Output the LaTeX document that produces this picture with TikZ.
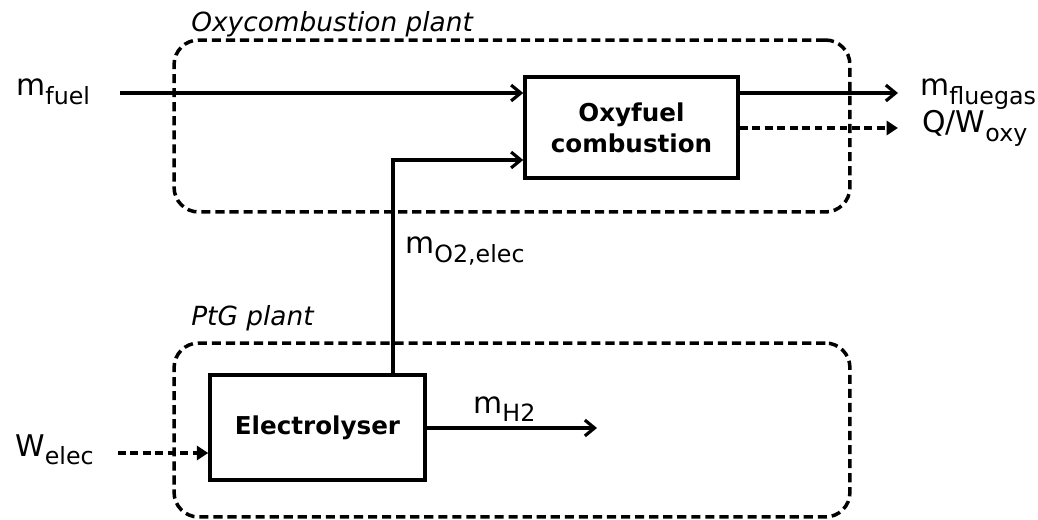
\documentclass[tikz,border=0pt]{standalone}
\usepackage{fontspec}
\setmainfont{DejaVu Sans}
\usetikzlibrary{arrows.meta,calc}
\newcommand\sbs[1]{\raisebox{-4.6pt}{\fontsize{13.5}{16}\selectfont #1}}
\tikzset{
  plantbox/.style={draw, line width=2pt, dash pattern=on 5.2pt off 2.8pt, rounded corners=14pt, inner sep=0pt},
  unitbox/.style={draw, line width=2pt, inner sep=0pt, align=center, font=\fontsize{14}{17.5}\selectfont\bfseries},
  arr/.style={line width=1.9pt, -{Straight Barb[length=5.5pt,width=9pt,line width=1.8pt]}},
  darr/.style={line width=1.9pt, dash pattern=on 4.5pt off 2.6pt, -{Triangle[length=6.5pt,width=8pt]}},
  lbl/.style={anchor=base west, inner sep=0pt, font=\fontsize{17}{20}\selectfont},
  plbl/.style={anchor=base west, inner sep=0pt, font=\fontsize{15}{18}\selectfont\itshape}
}
\begin{document}
\begin{tikzpicture}[x=0.02cm,y=-0.02cm]
\useasboundingbox (0,0) rectangle (1038,520);
% plant boxes
\node[plantbox, minimum width=13.52cm, minimum height=3.44cm] (oxyplant) at (512,126) {};
\node[plantbox, minimum width=13.52cm, minimum height=3.48cm] (ptgplant) at (512,430) {};
\node[plbl] (oxyplantlbl) at (191,32) {Oxycombustion plant};
\node[plbl] (ptgplantlbl) at (191,325) {PtG plant};
% unit boxes
\node[unitbox, minimum width=4.26cm, minimum height=2.02cm] (oxy) at (631.5,127.5) {Oxyfuel\\combustion};
\node[unitbox, minimum width=4.3cm, minimum height=2.1cm] (elec) at (317.5,427.5) {Electrolyser};
% labels
\node[lbl] (lfuel) at (16,96) {m\sbs{fuel}};
\node[lbl] (lflue) at (920,96) {m\sbs{fluegas}};
\node[lbl] (lqw) at (922,133) {Q/W\sbs{oxy}};
\node[lbl] (lo2) at (405,254) {m\sbs{O2,elec}};
\node[lbl] (lh2) at (473,413) {m\sbs{H2}};
\node[lbl] (lwel) at (15,456) {W\sbs{elec}};
% connector end points
\coordinate (fuelin) at (120,93);
\coordinate (flueout) at (898,93);
\coordinate (qwout) at (898,128);
\coordinate (o2turn) at (393,160);
\coordinate (welin) at (118,453);
\coordinate (h2out) at (597,428);
% connectors
\draw[arr] (fuelin) -- (oxy.west |- fuelin);
\draw[arr] (elec.north -| o2turn) -- (o2turn) -- (oxy.west |- o2turn);
\draw[arr] (oxy.east |- flueout) -- (flueout);
\draw[darr] (oxy.east |- qwout) -- (qwout);
\draw[darr] (welin) -- (elec.west |- welin);
\draw[arr] (elec.east |- h2out) -- (h2out);
\end{tikzpicture}
\end{document}
